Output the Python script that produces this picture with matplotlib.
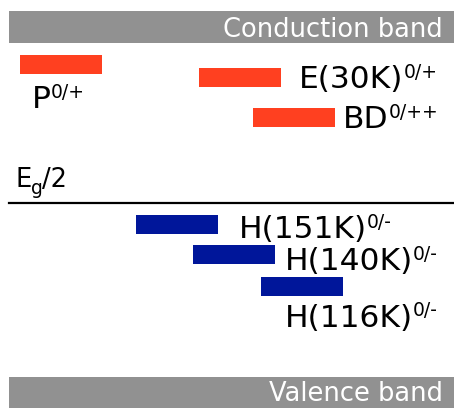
import matplotlib
matplotlib.use("Agg")
import matplotlib.pyplot as plt

plt.rcParams['font.family'] = ['DejaVu Sans']

# energy levels (picture coordinates, y grows downward)
donor_names = ["P", "E(30K)", "BD"]
donor_sups = ["0/+", "0/+", "0/++"]
donor_left = [20, 199, 253]
donor_y = [64, 77.5, 117.5]

acceptor_names = ["H(151K)", "H(140K)", "H(116K)"]
acceptor_sups = ["0/-", "0/-", "0/-"]
acceptor_left = [136, 193, 261]
acceptor_y = [224.5, 254.5, 286.5]

label_x = [32, 299, 343, 239, 285, 285]
label_y = [108, 88.5, 128, 238, 270, 327]

bar_w = 82
bar_h = 19

fig = plt.figure(figsize=(4.54, 4.08), dpi=100)
ax = fig.add_axes([0, 0, 1, 1])
ax.set_xlim(0, 454)
ax.set_ylim(408, 0)
ax.axis('off')

renderer = fig.canvas.get_renderer()
inv = ax.transData.inverted()


def right_edge(t):
    return inv.transform(t.get_window_extent(renderer).get_points())[1][0]


# bands
ax.barh(27, 445, left=9, height=32, color='#919191')
ax.barh(393, 445, left=9, height=32, color='#919191')
ax.text(443, 37, "Conduction band", color='white', fontsize=18.5, ha='right', va='baseline')
ax.text(443, 407, "Valence band", color='white', fontsize=18.5, ha='right', va='bottom')

# midgap
ax.plot([9, 454], [203, 203], color='black', lw=1.6)
t = ax.text(16, 187, "E", fontsize=18.5, va='baseline')
t = ax.text(right_edge(t) - 1, 194, "g", fontsize=13.5, va='baseline')
ax.text(right_edge(t) - 1, 187, "/2", fontsize=18.5, va='baseline')

ax.barh(donor_y, bar_w, left=donor_left, height=bar_h, color='#ff4020')
ax.barh(acceptor_y, bar_w, left=acceptor_left, height=bar_h, color='#00169a')

for name, sup, x, y in zip(donor_names + acceptor_names, donor_sups + acceptor_sups, label_x, label_y):
    t = ax.text(x, y, name, fontsize=22.5, va='baseline')
    ax.text(right_edge(t), y - 10.5, sup, fontsize=13.5, va='baseline')

fig.savefig("out.png", dpi=100)
